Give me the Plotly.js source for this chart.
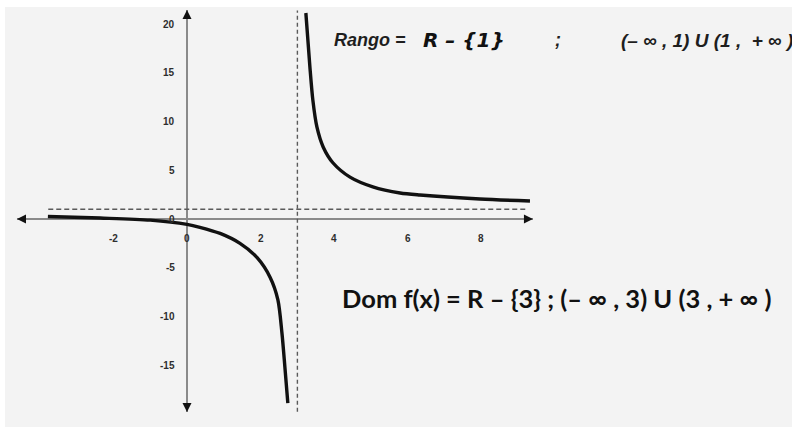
<!DOCTYPE html>
<html>
<head>
<meta charset="utf-8">
<script src="https://cdn.plot.ly/plotly-3.0.1.min.js"></script>
<style>html,body{margin:0;padding:0;background:#fff;}#chart{width:792px;height:428px;}</style>
</head>
<body>
<div id="chart"></div>
<script>
// ---- data ----
var leftX  = [-3.78, -2.36, -1.0, 0.0, 0.35, 0.90, 1.44, 1.90, 2.26, 2.47, 2.58, 2.66, 2.74];
var leftY  = [0.26, 0.10, -0.12, -0.55, -0.85, -1.48, -2.5, -3.95, -6.0, -8.30, -11.7, -15.2, -18.9];
var rightX = [3.23, 3.34, 3.42, 3.53, 3.70, 3.97, 4.43, 5.05, 5.79, 6.33, 7.96, 9.32];
var rightY = [21.15, 15.6, 12.2, 9.45, 7.4, 5.75, 4.3, 3.3, 2.67, 2.46, 2.05, 1.85];
var verticalAsymptote = 3;
var horizontalAsymptote = 1;
var xTickVals = [-2, 0, 2, 4, 6, 8];
var xTickText = ["-2", "0", "2", "4", "6", "8"];
var yTickVals = [20, 15, 10, 5, 0, -5, -10, -15];
var yTickText = ["20", "15", "10", "5", "0", "-5", "-10", "-15"];
var rangoLabel = "Rango =";
var rangoSet = "R \u2013 {1}";
var rangoSep = ";";
var rangoInterval = "(\u2013 \u221e , 1) U (1 ,  + \u221e )";
var domText = "Dom f(x) = R \u2013 {3} ; (\u2013 \u221e , 3) U (3 , + \u221e )";

// ---- layout helpers ----
var W = 792, H = 428;
var pxX = 36.8, pxY = 9.74, x0px = 187, y0px = 219;
function px(x) { return x / W; }
function py(y) { return 1 - y / H; }

var xr = [-x0px / pxX, (W - x0px) / pxX];
var yr = [-(H - y0px) / pxY, y0px / pxY];

var xAxisEnds = [-4.62, 9.40];
var yAxisEnds = [-19.82, 21.46];
var hDashEnds = [-3.77, 9.20];
var vDashEnds = [-19.8, 21.4];

var axisColor = "#8a8a8a";
var tickFont = {family: "Liberation Sans, Arial, sans-serif", size: 10, color: "#2e2e2e"};

var shapes = [
  {type: "rect", xref: "paper", yref: "paper", x0: px(5), x1: 1, y0: py(427), y1: py(7),
   fillcolor: "#f3f3f3", line: {width: 0}, layer: "below"},
  {type: "line", xref: "x", yref: "y", x0: xAxisEnds[0], x1: xAxisEnds[1], y0: 0, y1: 0,
   line: {color: axisColor, width: 2}, layer: "below"},
  {type: "line", xref: "x", yref: "y", x0: 0, x1: 0, y0: yAxisEnds[0], y1: yAxisEnds[1],
   line: {color: axisColor, width: 2}, layer: "below"},
  {type: "line", xref: "x", yref: "y", x0: verticalAsymptote, x1: verticalAsymptote, y0: vDashEnds[0], y1: vDashEnds[1],
   line: {color: "#5a5a5a", width: 1.4, dash: "4px,3px"}, layer: "below"},
  {type: "line", xref: "x", yref: "y", x0: hDashEnds[0], x1: hDashEnds[1], y0: horizontalAsymptote, y1: horizontalAsymptote,
   line: {color: "#5a5a5a", width: 1.4, dash: "5px,3px"}, layer: "below"}
];

var annotations = [];
// arrowheads on the axes
function arrowHead(x, y, ax, ay) {
  annotations.push({x: x, y: y, ax: ax, ay: ay, xref: "x", yref: "y", axref: "x", ayref: "y",
    text: "", showarrow: true, arrowhead: 2, arrowsize: 1, arrowwidth: 1.8, arrowcolor: "#111111", standoff: 0});
}
arrowHead(xAxisEnds[1], 0, xAxisEnds[1] - 0.22, 0);
arrowHead(xAxisEnds[0], 0, xAxisEnds[0] + 0.22, 0);
arrowHead(0, yAxisEnds[1], 0, yAxisEnds[1] - 0.85);
arrowHead(0, yAxisEnds[0], 0, yAxisEnds[0] + 0.85);

// tick labels
xTickVals.forEach(function (v, i) {
  annotations.push({x: v, y: 0, xref: "x", yref: "y", text: "<b>" + xTickText[i] + "</b>",
    showarrow: false, xanchor: "center", yanchor: "middle", yshift: -19, font: tickFont});
});
yTickVals.forEach(function (v, i) {
  annotations.push({x: 0, y: v, xref: "x", yref: "y", text: "<b>" + yTickText[i] + "</b>",
    showarrow: false, xanchor: "right", yanchor: "middle", xshift: -10, yshift: 0, font: tickFont});
});

// text
var arialBI = {family: "Liberation Sans, Arial, sans-serif", size: 18, color: "#1e1e1e"};
annotations.push({xref: "paper", yref: "paper", x: px(332), y: py(40), xanchor: "left", yanchor: "middle",
  text: "<b><i>" + rangoLabel + "</i></b>", showarrow: false, font: arialBI});
annotations.push({xref: "paper", yref: "paper", x: px(421), y: py(40), xanchor: "left", yanchor: "middle",
  text: "<b><i>" + rangoSet + "</i></b>", showarrow: false,
  font: {family: "DejaVu Sans, sans-serif", size: 20, color: "#111"}});
annotations.push({xref: "paper", yref: "paper", x: px(553), y: py(40), xanchor: "left", yanchor: "middle",
  text: "<b><i>" + rangoSep + "</i></b>", showarrow: false, font: arialBI});
annotations.push({xref: "paper", yref: "paper", x: px(619), y: py(40), xanchor: "left", yanchor: "middle",
  text: "<b><i>" + rangoInterval + "</i></b>", showarrow: false,
  font: {family: "Liberation Sans, Arial, sans-serif", size: 19, color: "#1e1e1e"}});
annotations.push({xref: "paper", yref: "paper", x: px(340), y: py(298), xanchor: "left", yanchor: "middle",
  text: "<b>" + domText + "</b>", showarrow: false,
  font: {family: "Lato, Open Sans, sans-serif", size: 25.5, color: "#111"}});

var curveLine = {color: "#111111", width: 3.4, shape: "spline", smoothing: 0.8};
var data = [
  {x: leftX, y: leftY, type: "scatter", mode: "lines", line: curveLine, hoverinfo: "skip"},
  {x: rightX, y: rightY, type: "scatter", mode: "lines", line: curveLine, hoverinfo: "skip"}
];

var layout = {
  width: W, height: H,
  margin: {l: 0, r: 0, t: 0, b: 0, pad: 0},
  paper_bgcolor: "#ffffff", plot_bgcolor: "rgba(0,0,0,0)",
  showlegend: false,
  xaxis: {range: xr, visible: false, fixedrange: true},
  yaxis: {range: yr, visible: false, fixedrange: true},
  shapes: shapes,
  annotations: annotations
};

Plotly.newPlot("chart", data, layout, {staticPlot: true, displayModeBar: false});
</script>
</body>
</html>
